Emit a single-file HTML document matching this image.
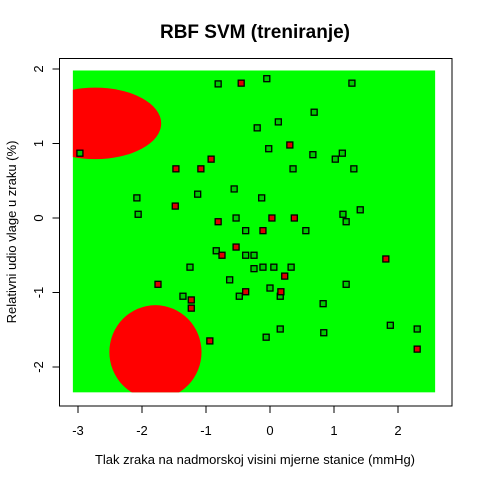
<!DOCTYPE html>
<html><head><meta charset="utf-8"><style>
body{margin:0;background:#fff}
svg text{font-family:"Liberation Sans",Arial,sans-serif}
</style></head><body>
<svg id="c" width="480" height="480" viewBox="0 0 480 480">
<defs><clipPath id="clip"><rect id="cliprect"/></clipPath></defs>
<text x="255" y="38" text-anchor="middle" font-size="19" font-weight="bold">RBF SVM (treniranje)</text>
<text x="255" y="464" text-anchor="middle" font-size="13">Tlak zraka na nadmorskoj visini mjerne stanice (mmHg)</text>
<text transform="translate(16,232) rotate(-90)" text-anchor="middle" font-size="13">Relativni udio vlage u zraku (%)</text>
<g id="plot"></g>
</svg>
<script>
const xTicks=[-3,-2,-1,0,1,2];
const yTicks=[-2,-1,0,1,2];
const gridX=[-3.08,2.58];
const gridY=[-2.34,1.98];
const blobCx=[-2.73,-1.79];
const blobCy=[1.27,-1.80];
const blobRx=[1.03,0.72];
const blobRy=[0.48,0.63];
const greenX=[-0.81,-0.20,-2.97,-0.56,-1.13,-2.08,-2.06,-0.53,-0.38,-0.05,1.28,0.69,0.13,-0.02,0.67,1.13,1.02,0.36,1.31,-0.13,1.41,1.14,1.19,0.56,-0.84,-0.38,-0.25,-1.25,-0.25,-0.63,-1.36,-0.48,-0.11,0.06,0.33,0.00,0.16,1.19,0.83,0.16,-0.06,0.84,1.88,2.30];
const greenY=[1.80,1.21,0.87,0.39,0.32,0.27,0.05,0.00,-0.17,1.87,1.81,1.42,1.29,0.93,0.85,0.87,0.79,0.66,0.66,0.27,0.11,0.05,-0.05,-0.17,-0.44,-0.50,-0.50,-0.66,-0.68,-0.83,-1.05,-1.05,-0.66,-0.66,-0.66,-0.94,-1.05,-0.89,-1.15,-1.49,-1.60,-1.54,-1.44,-1.49];
const redX=[-0.45,-0.92,-1.47,-1.08,-1.48,-0.81,0.31,0.03,0.38,-0.11,-0.53,-0.75,-1.75,-1.23,-0.38,-1.23,-0.94,1.81,0.23,0.17,2.30];
const redY=[1.81,0.79,0.66,0.66,0.16,-0.05,0.98,0.00,0.00,-0.17,-0.39,-0.50,-0.89,-1.10,-0.99,-1.21,-1.65,-0.55,-0.78,-0.99,-1.76];
const sx=v=>270+v*64;
const sy=v=>218-v*74.5;
const NS="http://www.w3.org/2000/svg";
const g=document.getElementById('plot');
function mk(t,a,p){const e=document.createElementNS(NS,t);for(const k in a)e.setAttribute(k,a[k]);(p||g).appendChild(e);return e;}
const cr=document.getElementById('cliprect');
cr.setAttribute('x',sx(gridX[0]));cr.setAttribute('y',sy(gridY[1]));
cr.setAttribute('width',sx(gridX[1])-sx(gridX[0]));cr.setAttribute('height',sy(gridY[0])-sy(gridY[1]));
let r=mk('rect',{x:sx(gridX[0]),y:sy(gridY[1]),width:sx(gridX[1])-sx(gridX[0]),height:sy(gridY[0])-sy(gridY[1]),fill:'#00ff00'});


for(let i=0;i<blobCx.length;i++){
 const e=mk('ellipse',{cx:sx(blobCx[i]),cy:sy(blobCy[i]),rx:blobRx[i]*64,ry:blobRy[i]*74.5,fill:'#ff0000','clip-path':'url(#clip)'});
 
 
}
function pts(xs,ys,fill,name){for(let i=0;i<xs.length;i++){
 const e=mk('rect',{x:sx(xs[i])-3,y:sy(ys[i])-3,width:6,height:6,fill:fill,stroke:'#000','stroke-width':1.3});
 
 
}}
pts(greenX,greenY,'#00cc00','point-green');
pts(redX,redY,'#dd0000','point-red');
let b=mk('rect',{x:59.5,y:58.5,width:392.5,height:347.5,fill:'none',stroke:'#000','stroke-width':1});


mk('line',{x1:sx(xTicks[0]),x2:sx(xTicks[xTicks.length-1]),y1:406,y2:406,stroke:'#000'});
xTicks.forEach(t=>{mk('line',{x1:sx(t),x2:sx(t),y1:406,y2:413,stroke:'#000'});
 const l=mk('text',{x:sx(t),y:435,'text-anchor':'middle','font-size':13});l.textContent=t;
 
 });
mk('line',{x1:59.5,x2:59.5,y1:sy(yTicks[0]),y2:sy(yTicks[yTicks.length-1]),stroke:'#000'});
yTicks.forEach(t=>{mk('line',{x1:52.5,x2:59.5,y1:sy(t),y2:sy(t),stroke:'#000'});
 const l=mk('text',{transform:`translate(43,${sy(t)}) rotate(-90)`,'text-anchor':'middle','font-size':13});l.textContent=t;
 
 });
</script>
</body></html>
